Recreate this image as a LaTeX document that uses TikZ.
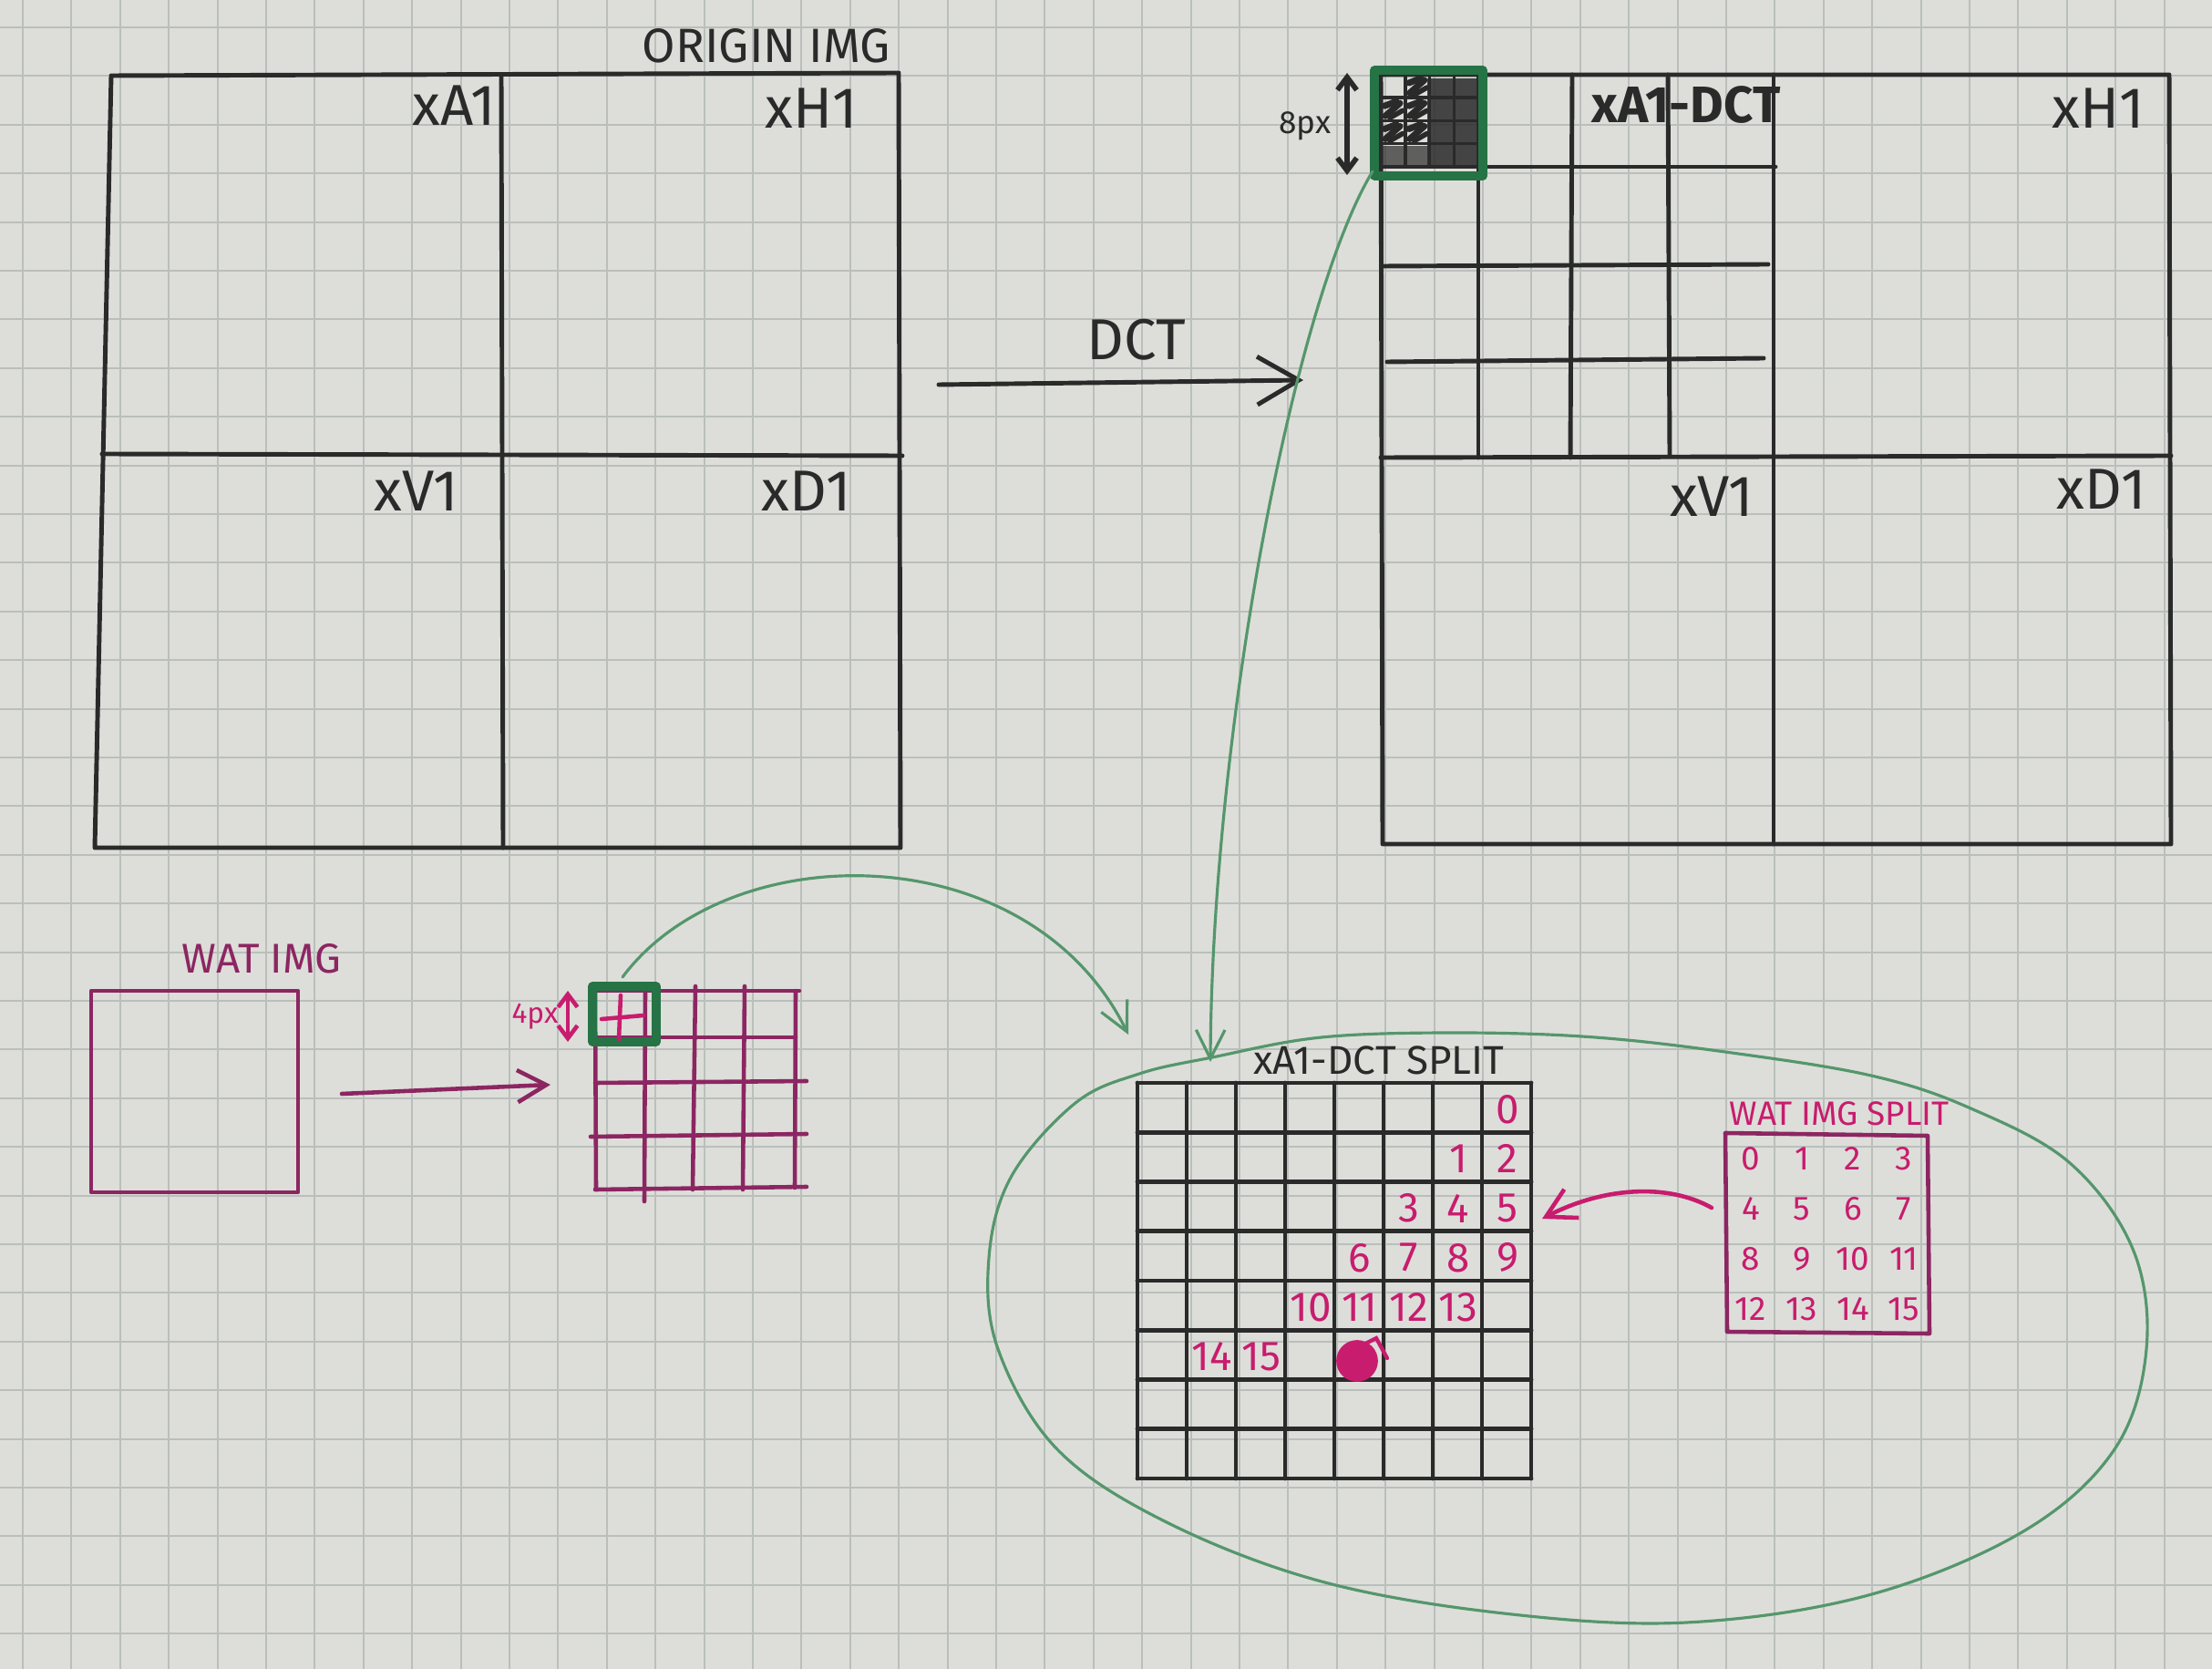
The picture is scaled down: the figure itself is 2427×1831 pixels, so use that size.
\documentclass[tikz,border=0pt]{standalone}
\usepackage{fontspec}
\setmainfont{Fira Sans}
\usetikzlibrary{arrows.meta}
\definecolor{paper}{RGB}{221,222,217}
\definecolor{gridc}{RGB}{186,191,187}
\definecolor{inkc}{RGB}{42,42,42}
\definecolor{pinkn}{RGB}{200,28,110}
\definecolor{purp}{RGB}{140,38,98}
\definecolor{gbox}{RGB}{38,115,70}
\definecolor{gthin}{RGB}{85,150,108}
\newcommand\myfs[1]{\fontsize{#1}{#1}\selectfont}
\begin{document}
\begin{tikzpicture}[x=0.01cm,y=-0.01cm,
  ink/.style={draw=inkc,line width=1.4pt,line cap=round,line join=round},
  wline/.style={draw=purp,line width=1.3pt,line cap=round,line join=round},
  gboxs/.style={draw=gbox,line width=2.6pt,line join=round},
  gcurve/.style={draw=gthin,line width=0.9pt,line cap=round},
  lab/.style={text=inkc,inner sep=0pt,font=\myfs{18}},
  num/.style={text=pinkn,inner sep=0pt,font=\myfs{13}},
  snum/.style={text=pinkn,inner sep=0pt,font=\myfs{10.5}},
  bigbarb/.style={-{Straight Barb[length=13pt,width=15pt,line width=1.4pt]}},
  gbarb/.style={-{Straight Barb[length=9pt,width=9pt,line width=0.9pt]}},
  pbarb/.style={-{Straight Barb[length=9pt,width=10pt,line width=1.3pt]}},
  dbl/.style={{Straight Barb[length=4pt,width=6pt]}-{Straight Barb[length=4pt,width=6pt]}}
]
% paper
\fill[paper] (0,0) rectangle (2427,1831);
\useasboundingbox (0,0) rectangle (2427,1831);
\foreach \i in {0,...,45} \draw[gridc,line width=0.6pt] ({25+53.4*\i},0) -- ({25+53.4*\i},1831);
\foreach \j in {0,...,34} \draw[gridc,line width=0.6pt] (0,{30+53.4*\j}) -- (2427,{30+53.4*\j});

% ---------- ORIGIN IMG ----------
\draw[ink] (122,83) -- (986,80) -- (988,930) -- (104,930) -- cycle;
\draw[ink] (550,82) -- (552,930);
\draw[ink] (112,498) -- (990,500);
\node[lab,font=\myfs{15}] (oimg) at (841,50) {ORIGIN IMG};
\node[lab] (oA1) at (498,116) {xA1};
\node[lab] (oH1) at (890,119) {xH1};
\node[lab] (oV1) at (457,539) {xV1};
\node[lab] (oD1) at (885,539) {xD1};

% ---------- DCT arrow ----------
\coordinate (dctS) at (1030,422);
\coordinate (dctE) at (1430,417);
\draw[ink,bigbarb] (dctS) -- (dctE);
\node[lab] (dct) at (1247,373) {DCT};

% ---------- xA1-DCT image ----------
\draw[ink] (1515,82) -- (2380,82) -- (2382,926) -- (1517,926) -- cycle;
\draw[ink] (1946,82) -- (1946,926);
\draw[ink] (1515,502) -- (2382,500);
\draw[ink] (1515,183) -- (1948,183);
\draw[ink] (1517,292) -- (1940,290);
\draw[ink] (1522,397) -- (1935,393);
\draw[ink] (1622,82) -- (1622,502);
\draw[ink] (1725,82) -- (1723,502);
\draw[ink] (1830,82) -- (1832,500);
% mini 4x4 grid, scribbled
\foreach \k in {1,2,3} {
  \draw[inkc,line width=1pt] ({1515+26.75*\k},82) -- ({1515+26.75*\k},183);
  \draw[inkc,line width=1pt] (1515,{82+25.25*\k}) -- (1622,{82+25.25*\k});
}
\fill[inkc,opacity=0.85] (1566,86) rectangle (1621,182);
\fill[inkc,opacity=0.7] (1516,160) rectangle (1568,182);
\foreach \c/\r in {1/0,0/1,1/1,0/2,1/2} {
  \draw[inkc,line width=2pt,line cap=round] ({1515+26.75*\c+5},{82+25.25*\r+20}) -- ({1515+26.75*\c+21},{82+25.25*\r+6});
  \draw[inkc,line width=2pt,line cap=round] ({1515+26.75*\c+4},{82+25.25*\r+9}) -- ({1515+26.75*\c+17},{82+25.25*\r+4});
  \draw[inkc,line width=1.6pt,line cap=round] ({1515+26.75*\c+10},{82+25.25*\r+22}) -- ({1515+26.75*\c+24},{82+25.25*\r+14});
}
\draw[gboxs] (1508,77) rectangle (1627,193);
\coordinate (miniBL) at (1506,188);
\coordinate (p8t) at (1478,80);
\coordinate (p8b) at (1478,192);
\draw[inkc,line width=1.6pt,dbl] (p8t) -- (p8b);
\node[lab,font=\myfs{10}] (p8) at (1432,138) {8px};
\node[lab,font=\bfseries\myfs{16}] (rA1) at (1850,115) {xA1-DCT};
\node[lab] (rH1) at (2302,119) {xH1};
\node[lab] (rV1) at (1878,545) {xV1};
\node[lab] (rD1) at (2306,537) {xD1};

% ---------- WAT IMG ----------
\draw[wline] (100,1087) rectangle (327,1308);
\node[lab,text=purp,font=\myfs{13}] (wimg) at (287,1052) {WAT IMG};
\coordinate (wS) at (375,1200);
\coordinate (wE) at (604,1190);
\draw[wline,pbarb] (wS) -- (wE);

% WAT 4x4 grid
\draw[wline] (653,1087) -- (877,1087);
\draw[wline] (653,1138) -- (873,1138);
\draw[wline] (653,1188) -- (885,1186);
\draw[wline] (648,1247) -- (885,1244);
\draw[wline] (653,1305) -- (885,1302);
\draw[wline] (653,1087) -- (654,1305);
\draw[wline] (708,1087) -- (707,1318);
\draw[wline] (763,1082) -- (760,1305);
\draw[wline] (817,1082) -- (815,1305);
\draw[wline] (873,1087) -- (872,1303);
\draw[gboxs] (650,1082) rectangle (720,1143);
\draw[pinkn,line width=1.3pt,line cap=round] (660,1118) -- (706,1114);
\draw[pinkn,line width=1.3pt,line cap=round] (681,1092) -- (679,1140);
\coordinate (p4t) at (623,1087);
\coordinate (p4b) at (623,1143);
\draw[pinkn,line width=1.3pt,dbl] (p4t) -- (p4b);
\node[lab,text=pinkn,font=\myfs{9}] (p4) at (587,1115) {4px};
\coordinate (wboxTop) at (683,1072);

% ---------- split grid ----------
\foreach \k in {0,...,8} {
  \draw[ink] ({1248+54*\k},1188) -- ({1248+54*\k},1622);
  \draw[ink] (1248,{1188+54.25*\k}) -- (1680,{1188+54.25*\k});
}
\node[lab,font=\myfs{12.5}] (splab) at (1513,1163) {xA1-DCT SPLIT};
\foreach \c/\r/\t in {7/0/0,6/1/1,7/1/2,5/2/3,6/2/4,7/2/5,4/3/6,5/3/7,6/3/8,7/3/9,3/4/10,4/4/11,5/4/12,6/4/13,1/5/14,2/5/15}
  \node[num] (n\t) at ({1276+54*\c},{1217+54.25*\r}) {\t};
\fill[pinkn] (1489,1493) circle[radius=6.5pt];
\draw[pinkn,line width=1.2pt,line cap=round] (1498,1474) -- (1510,1468) -- (1522,1490);

% ---------- WAT IMG SPLIT ----------
\draw[wline] (1893,1243) -- (2115,1246) -- (2117,1463) -- (1895,1461) -- cycle;
\node[lab,text=pinkn,font=\myfs{10.5}] (wslab) at (2018,1222) {WAT IMG SPLIT};
\foreach \c in {0,...,3} \foreach \r in {0,...,3} {
  \pgfmathtruncatemacro\v{4*\r+\c}
  \node[snum] (s\v) at ({1921+56*\c},{1271+55*\r}) {\v};
}
\coordinate (pS) at (1878,1325);
\coordinate (pE) at (1692,1337);
\draw[pinkn,line width=1.3pt,line cap=round,pbarb] (pS) .. controls (1830,1298) and (1760,1302) .. (pE);

% ---------- green connectors ----------
\coordinate (gArr1) at (1238,1135);
\draw[gcurve,gbarb] (wboxTop) .. controls (800,915) and (1130,915) .. (gArr1);
\coordinate (gArr2) at (1328,1165);
\draw[gcurve,gbarb] (miniBL) .. controls (1420,330) and (1330,800) .. (gArr2);
% green loop
\draw[gcurve] plot[smooth cycle,tension=0.6] coordinates {
 (1330,1160) (1450,1138) (1600,1133) (1750,1138) (1900,1155) (2053,1180) (2160,1215)
 (2270,1275) (2340,1370) (2355,1480) (2320,1590) (2220,1680) (2050,1750) (1850,1780)
 (1650,1770) (1450,1735) (1280,1670) (1160,1590) (1095,1480) (1085,1380) (1110,1290)
 (1180,1210) (1250,1178)};
\end{tikzpicture}
\end{document}
